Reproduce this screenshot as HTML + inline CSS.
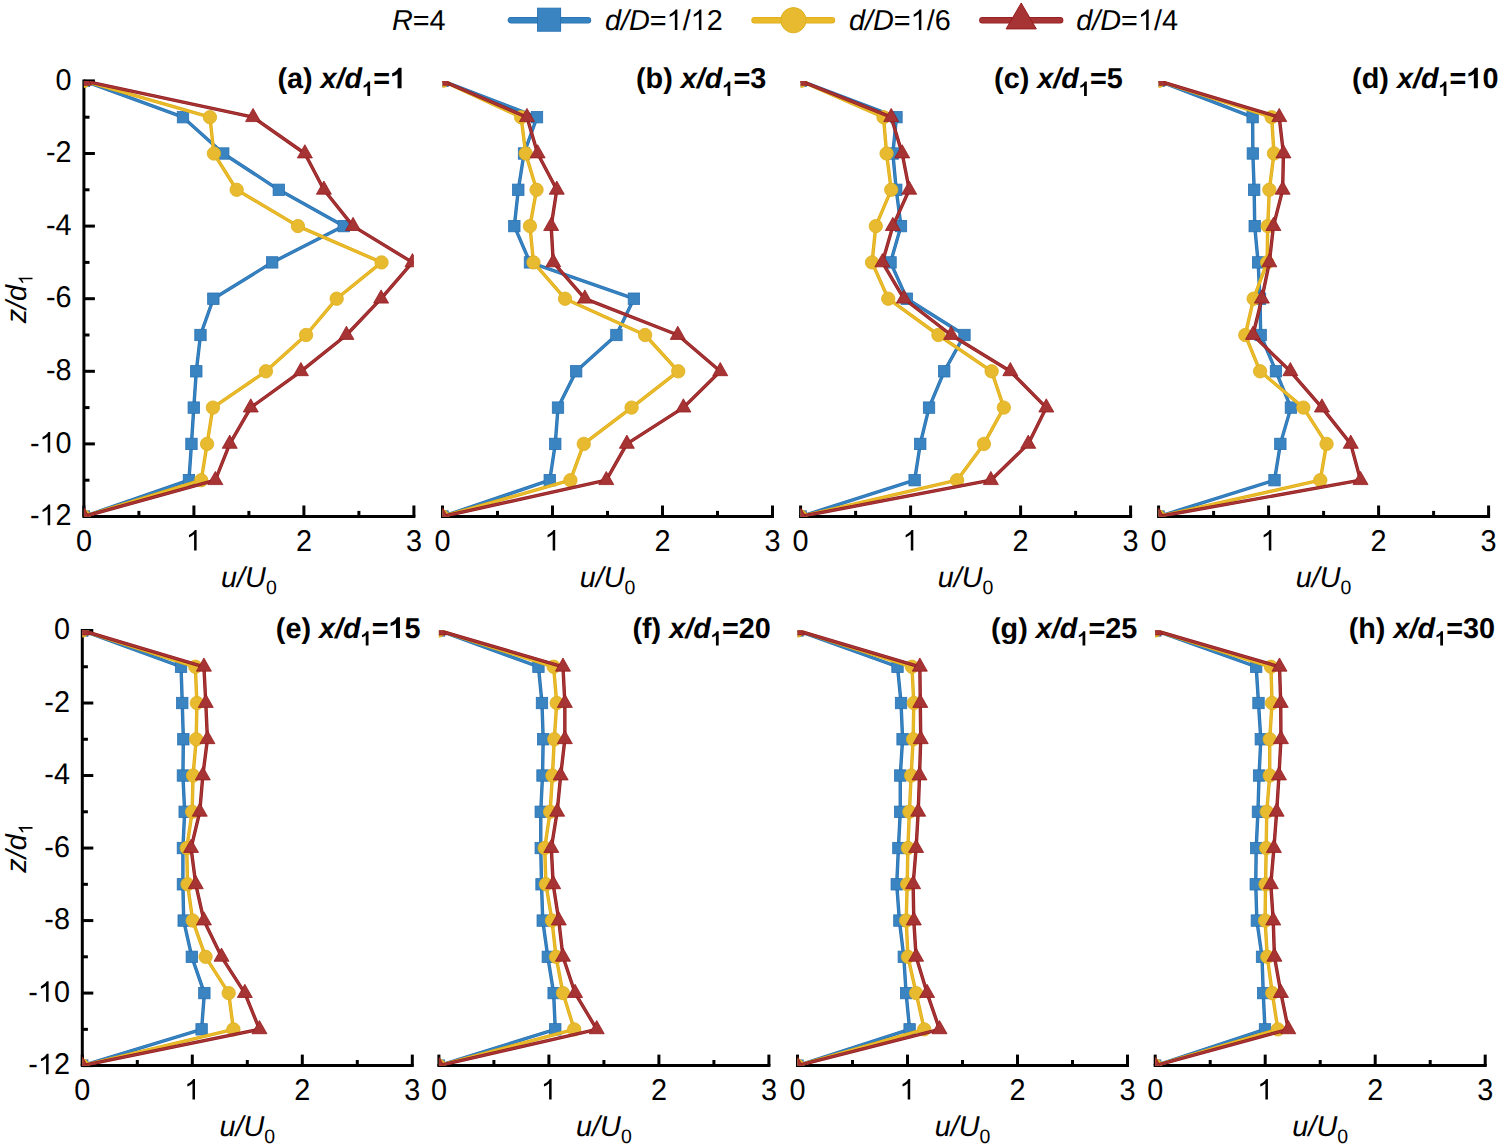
<!DOCTYPE html>
<html><head><meta charset="utf-8"><title>Velocity profiles</title>
<style>html,body{margin:0;padding:0;background:#fff;}svg{display:block;}text{font-family:"Liberation Sans", sans-serif;fill:#000;text-rendering:geometricPrecision;}.o1{fill-opacity:0;}</style></head><body>
<svg width="1499" height="1147" viewBox="0 0 1499 1147">
<rect width="1499" height="1147" fill="#fff"/>
<defs>
<clipPath id="ca"><rect x="83.9" y="80.9" width="330" height="435.6"/></clipPath>
<clipPath id="cb"><rect x="442.5" y="80.9" width="330" height="435.6"/></clipPath>
<clipPath id="cc"><rect x="800.6" y="80.9" width="330" height="435.6"/></clipPath>
<clipPath id="cd"><rect x="1158.6" y="80.9" width="330" height="435.6"/></clipPath>
<clipPath id="ce"><rect x="82.3" y="630.5" width="330" height="435.1"/></clipPath>
<clipPath id="cf"><rect x="438.9" y="630.5" width="330" height="435.1"/></clipPath>
<clipPath id="cg"><rect x="797.5" y="630.5" width="330" height="435.1"/></clipPath>
<clipPath id="ch"><rect x="1155.2" y="630.5" width="330" height="435.1"/></clipPath>
</defs>
<g stroke="#000" stroke-width="3.0" fill="none" stroke-linecap="butt">
<line x1="82.4" y1="516.5" x2="415.4" y2="516.5"/>
<line x1="83.9" y1="516.5" x2="83.9" y2="505.5"/>
<line x1="193.9" y1="516.5" x2="193.9" y2="505.5"/>
<line x1="303.9" y1="516.5" x2="303.9" y2="505.5"/>
<line x1="413.9" y1="516.5" x2="413.9" y2="505.5"/>
<line x1="138.9" y1="516.5" x2="138.9" y2="510.9"/>
<line x1="248.9" y1="516.5" x2="248.9" y2="510.9"/>
<line x1="358.9" y1="516.5" x2="358.9" y2="510.9"/>
<line x1="83.9" y1="79.4" x2="83.9" y2="516.5"/>
<line x1="83.9" y1="80.9" x2="94.9" y2="80.9"/>
<line x1="83.9" y1="117.2" x2="89.5" y2="117.2"/>
<line x1="83.9" y1="153.5" x2="94.9" y2="153.5"/>
<line x1="83.9" y1="189.8" x2="89.5" y2="189.8"/>
<line x1="83.9" y1="226.1" x2="94.9" y2="226.1"/>
<line x1="83.9" y1="262.4" x2="89.5" y2="262.4"/>
<line x1="83.9" y1="298.7" x2="94.9" y2="298.7"/>
<line x1="83.9" y1="335" x2="89.5" y2="335"/>
<line x1="83.9" y1="371.3" x2="94.9" y2="371.3"/>
<line x1="83.9" y1="407.6" x2="89.5" y2="407.6"/>
<line x1="83.9" y1="443.9" x2="94.9" y2="443.9"/>
<line x1="83.9" y1="480.2" x2="89.5" y2="480.2"/>
<line x1="83.9" y1="516.5" x2="94.9" y2="516.5"/>
</g>
<g clip-path="url(#ca)">
<polyline points="83.9,80.9 182.99,117.2 223.25,153.5 278.8,189.8 343.7,226.1 272.2,262.4 213.35,298.7 200.48,335 196.3,371.3 193.77,407.6 191.46,443.9 188.93,480.2 83.9,516.5" fill="none" stroke="#2a70b0" stroke-width="3.4" stroke-linejoin="round"/>
<polyline points="83.9,80.9 182.99,117.2 223.25,153.5 278.8,189.8 343.7,226.1 272.2,262.4 213.35,298.7 200.48,335 196.3,371.3 193.77,407.6 191.46,443.9 188.93,480.2 83.9,516.5" fill="none" stroke="#3683c2" stroke-width="2.1" stroke-linejoin="round"/>
<rect x="78.2" y="75.2" width="11.4" height="11.4" fill="#3a85c1" stroke="#2a72b3" stroke-width="0.8"/>
<rect x="177.29" y="111.5" width="11.4" height="11.4" fill="#3a85c1" stroke="#2a72b3" stroke-width="0.8"/>
<rect x="217.55" y="147.8" width="11.4" height="11.4" fill="#3a85c1" stroke="#2a72b3" stroke-width="0.8"/>
<rect x="273.1" y="184.1" width="11.4" height="11.4" fill="#3a85c1" stroke="#2a72b3" stroke-width="0.8"/>
<rect x="338" y="220.4" width="11.4" height="11.4" fill="#3a85c1" stroke="#2a72b3" stroke-width="0.8"/>
<rect x="266.5" y="256.7" width="11.4" height="11.4" fill="#3a85c1" stroke="#2a72b3" stroke-width="0.8"/>
<rect x="207.65" y="293" width="11.4" height="11.4" fill="#3a85c1" stroke="#2a72b3" stroke-width="0.8"/>
<rect x="194.78" y="329.3" width="11.4" height="11.4" fill="#3a85c1" stroke="#2a72b3" stroke-width="0.8"/>
<rect x="190.6" y="365.6" width="11.4" height="11.4" fill="#3a85c1" stroke="#2a72b3" stroke-width="0.8"/>
<rect x="188.07" y="401.9" width="11.4" height="11.4" fill="#3a85c1" stroke="#2a72b3" stroke-width="0.8"/>
<rect x="185.76" y="438.2" width="11.4" height="11.4" fill="#3a85c1" stroke="#2a72b3" stroke-width="0.8"/>
<rect x="183.23" y="474.5" width="11.4" height="11.4" fill="#3a85c1" stroke="#2a72b3" stroke-width="0.8"/>
<rect x="78.2" y="510.8" width="11.4" height="11.4" fill="#3a85c1" stroke="#2a72b3" stroke-width="0.8"/>
<polyline points="83.9,80.9 209.94,117.2 213.9,153.5 236.67,189.8 297.94,226.1 381.54,262.4 336.66,298.7 306.08,335 265.93,371.3 212.91,407.6 207.08,443.9 201.25,480.2 83.9,516.5" fill="none" stroke="#e0ac14" stroke-width="3.4" stroke-linejoin="round"/>
<polyline points="83.9,80.9 209.94,117.2 213.9,153.5 236.67,189.8 297.94,226.1 381.54,262.4 336.66,298.7 306.08,335 265.93,371.3 212.91,407.6 207.08,443.9 201.25,480.2 83.9,516.5" fill="none" stroke="#e9bb2c" stroke-width="2.1" stroke-linejoin="round"/>
<circle cx="83.9" cy="80.9" r="6.7" fill="#e7ba2f" stroke="#e0b020" stroke-width="0.8"/>
<circle cx="209.94" cy="117.2" r="6.7" fill="#e7ba2f" stroke="#e0b020" stroke-width="0.8"/>
<circle cx="213.9" cy="153.5" r="6.7" fill="#e7ba2f" stroke="#e0b020" stroke-width="0.8"/>
<circle cx="236.67" cy="189.8" r="6.7" fill="#e7ba2f" stroke="#e0b020" stroke-width="0.8"/>
<circle cx="297.94" cy="226.1" r="6.7" fill="#e7ba2f" stroke="#e0b020" stroke-width="0.8"/>
<circle cx="381.54" cy="262.4" r="6.7" fill="#e7ba2f" stroke="#e0b020" stroke-width="0.8"/>
<circle cx="336.66" cy="298.7" r="6.7" fill="#e7ba2f" stroke="#e0b020" stroke-width="0.8"/>
<circle cx="306.08" cy="335" r="6.7" fill="#e7ba2f" stroke="#e0b020" stroke-width="0.8"/>
<circle cx="265.93" cy="371.3" r="6.7" fill="#e7ba2f" stroke="#e0b020" stroke-width="0.8"/>
<circle cx="212.91" cy="407.6" r="6.7" fill="#e7ba2f" stroke="#e0b020" stroke-width="0.8"/>
<circle cx="207.08" cy="443.9" r="6.7" fill="#e7ba2f" stroke="#e0b020" stroke-width="0.8"/>
<circle cx="201.25" cy="480.2" r="6.7" fill="#e7ba2f" stroke="#e0b020" stroke-width="0.8"/>
<circle cx="83.9" cy="516.5" r="6.7" fill="#e7ba2f" stroke="#e0b020" stroke-width="0.8"/>
<polyline points="83.9,80.9 253.06,117.2 304.87,153.5 323.9,189.8 353.05,226.1 412.45,262.4 381.1,298.7 346.45,335 300.91,371.3 250.75,407.6 229.74,443.9 215.33,480.2 83.9,516.5" fill="none" stroke="#921d1f" stroke-width="3.4" stroke-linejoin="round"/>
<polyline points="83.9,80.9 253.06,117.2 304.87,153.5 323.9,189.8 353.05,226.1 412.45,262.4 381.1,298.7 346.45,335 300.91,371.3 250.75,407.6 229.74,443.9 215.33,480.2 83.9,516.5" fill="none" stroke="#a63434" stroke-width="2.1" stroke-linejoin="round"/>
<polygon points="83.9,72.1 91.4,85.3 76.4,85.3" fill="#a63434" stroke="#981c1e" stroke-width="0.8" stroke-linejoin="miter"/>
<polygon points="253.06,108.4 260.56,121.6 245.56,121.6" fill="#a63434" stroke="#981c1e" stroke-width="0.8" stroke-linejoin="miter"/>
<polygon points="304.87,144.7 312.37,157.9 297.37,157.9" fill="#a63434" stroke="#981c1e" stroke-width="0.8" stroke-linejoin="miter"/>
<polygon points="323.9,181 331.4,194.2 316.4,194.2" fill="#a63434" stroke="#981c1e" stroke-width="0.8" stroke-linejoin="miter"/>
<polygon points="353.05,217.3 360.55,230.5 345.55,230.5" fill="#a63434" stroke="#981c1e" stroke-width="0.8" stroke-linejoin="miter"/>
<polygon points="412.45,253.6 419.95,266.8 404.95,266.8" fill="#a63434" stroke="#981c1e" stroke-width="0.8" stroke-linejoin="miter"/>
<polygon points="381.1,289.9 388.6,303.1 373.6,303.1" fill="#a63434" stroke="#981c1e" stroke-width="0.8" stroke-linejoin="miter"/>
<polygon points="346.45,326.2 353.95,339.4 338.95,339.4" fill="#a63434" stroke="#981c1e" stroke-width="0.8" stroke-linejoin="miter"/>
<polygon points="300.91,362.5 308.41,375.7 293.41,375.7" fill="#a63434" stroke="#981c1e" stroke-width="0.8" stroke-linejoin="miter"/>
<polygon points="250.75,398.8 258.25,412 243.25,412" fill="#a63434" stroke="#981c1e" stroke-width="0.8" stroke-linejoin="miter"/>
<polygon points="229.74,435.1 237.24,448.3 222.24,448.3" fill="#a63434" stroke="#981c1e" stroke-width="0.8" stroke-linejoin="miter"/>
<polygon points="215.33,471.4 222.83,484.6 207.83,484.6" fill="#a63434" stroke="#981c1e" stroke-width="0.8" stroke-linejoin="miter"/>
<polygon points="83.9,507.7 91.4,520.9 76.4,520.9" fill="#a63434" stroke="#981c1e" stroke-width="0.8" stroke-linejoin="miter"/>
</g>
<text transform="translate(83.9,550.5) scale(1,1.04)" font-size="28.8" text-anchor="middle">0</text>
<text transform="translate(193.9,550.5) scale(1,1.04)" font-size="28.8" text-anchor="middle"><tspan class="o1">1</tspan></text>
<text transform="translate(303.9,550.5) scale(1,1.04)" font-size="28.8" text-anchor="middle">2</text>
<text transform="translate(413.9,550.5) scale(1,1.04)" font-size="28.8" text-anchor="middle">3</text>
<text transform="translate(71.5,89.6) scale(1,1.04)" font-size="28.8" text-anchor="end">0</text>
<text transform="translate(71.5,162.2) scale(1,1.04)" font-size="28.8" text-anchor="end">-2</text>
<text transform="translate(71.5,234.8) scale(1,1.04)" font-size="28.8" text-anchor="end">-4</text>
<text transform="translate(71.5,307.4) scale(1,1.04)" font-size="28.8" text-anchor="end">-6</text>
<text transform="translate(71.5,380) scale(1,1.04)" font-size="28.8" text-anchor="end">-8</text>
<text transform="translate(71.5,452.6) scale(1,1.04)" font-size="28.8" text-anchor="end">-<tspan class="o1">1</tspan>0</text>
<text transform="translate(71.5,525.2) scale(1,1.04)" font-size="28.8" text-anchor="end">-<tspan class="o1">1</tspan>2</text>
<text transform="translate(25.5,298.7) rotate(-90)" font-size="28.8" text-anchor="middle"><tspan font-style="italic">z/d</tspan><tspan font-size="19.5" dy="7"><tspan class="o1">1</tspan></tspan></text>
<text x="248.9" y="586.8" font-size="28.8" text-anchor="middle"><tspan font-style="italic">u/U</tspan><tspan font-size="19.5" dy="7">0</tspan></text>
<text x="277.4" y="88.3" font-size="28.8" font-weight="bold">(a) <tspan font-style="italic">x/d</tspan><tspan font-size="20" dy="7.6"><tspan class="o1">1</tspan></tspan><tspan dy="-7.6">=<tspan class="o1">1</tspan></tspan></text>
<g stroke="#000" stroke-width="3.0" fill="none" stroke-linecap="butt">
<line x1="441" y1="516.5" x2="774" y2="516.5"/>
<line x1="442.5" y1="516.5" x2="442.5" y2="505.5"/>
<line x1="552.5" y1="516.5" x2="552.5" y2="505.5"/>
<line x1="662.5" y1="516.5" x2="662.5" y2="505.5"/>
<line x1="772.5" y1="516.5" x2="772.5" y2="505.5"/>
<line x1="497.5" y1="516.5" x2="497.5" y2="510.9"/>
<line x1="607.5" y1="516.5" x2="607.5" y2="510.9"/>
<line x1="717.5" y1="516.5" x2="717.5" y2="510.9"/>
</g>
<g clip-path="url(#cb)">
<polyline points="442.5,80.9 536.99,117.2 524.01,153.5 518.29,189.8 514.33,226.1 529.95,262.4 633.9,298.7 616.41,335 576.15,371.3 558,407.6 555.25,443.9 549.75,480.2 442.5,516.5" fill="none" stroke="#2a70b0" stroke-width="3.4" stroke-linejoin="round"/>
<polyline points="442.5,80.9 536.99,117.2 524.01,153.5 518.29,189.8 514.33,226.1 529.95,262.4 633.9,298.7 616.41,335 576.15,371.3 558,407.6 555.25,443.9 549.75,480.2 442.5,516.5" fill="none" stroke="#3683c2" stroke-width="2.1" stroke-linejoin="round"/>
<rect x="436.8" y="75.2" width="11.4" height="11.4" fill="#3a85c1" stroke="#2a72b3" stroke-width="0.8"/>
<rect x="531.29" y="111.5" width="11.4" height="11.4" fill="#3a85c1" stroke="#2a72b3" stroke-width="0.8"/>
<rect x="518.31" y="147.8" width="11.4" height="11.4" fill="#3a85c1" stroke="#2a72b3" stroke-width="0.8"/>
<rect x="512.59" y="184.1" width="11.4" height="11.4" fill="#3a85c1" stroke="#2a72b3" stroke-width="0.8"/>
<rect x="508.63" y="220.4" width="11.4" height="11.4" fill="#3a85c1" stroke="#2a72b3" stroke-width="0.8"/>
<rect x="524.25" y="256.7" width="11.4" height="11.4" fill="#3a85c1" stroke="#2a72b3" stroke-width="0.8"/>
<rect x="628.2" y="293" width="11.4" height="11.4" fill="#3a85c1" stroke="#2a72b3" stroke-width="0.8"/>
<rect x="610.71" y="329.3" width="11.4" height="11.4" fill="#3a85c1" stroke="#2a72b3" stroke-width="0.8"/>
<rect x="570.45" y="365.6" width="11.4" height="11.4" fill="#3a85c1" stroke="#2a72b3" stroke-width="0.8"/>
<rect x="552.3" y="401.9" width="11.4" height="11.4" fill="#3a85c1" stroke="#2a72b3" stroke-width="0.8"/>
<rect x="549.55" y="438.2" width="11.4" height="11.4" fill="#3a85c1" stroke="#2a72b3" stroke-width="0.8"/>
<rect x="544.05" y="474.5" width="11.4" height="11.4" fill="#3a85c1" stroke="#2a72b3" stroke-width="0.8"/>
<rect x="436.8" y="510.8" width="11.4" height="11.4" fill="#3a85c1" stroke="#2a72b3" stroke-width="0.8"/>
<polyline points="442.5,80.9 521.15,117.2 525.66,153.5 536.55,189.8 529.95,226.1 533.47,262.4 565.04,298.7 645.12,335 678.23,371.3 631.59,407.6 583.74,443.9 570.43,480.2 442.5,516.5" fill="none" stroke="#e0ac14" stroke-width="3.4" stroke-linejoin="round"/>
<polyline points="442.5,80.9 521.15,117.2 525.66,153.5 536.55,189.8 529.95,226.1 533.47,262.4 565.04,298.7 645.12,335 678.23,371.3 631.59,407.6 583.74,443.9 570.43,480.2 442.5,516.5" fill="none" stroke="#e9bb2c" stroke-width="2.1" stroke-linejoin="round"/>
<circle cx="442.5" cy="80.9" r="6.7" fill="#e7ba2f" stroke="#e0b020" stroke-width="0.8"/>
<circle cx="521.15" cy="117.2" r="6.7" fill="#e7ba2f" stroke="#e0b020" stroke-width="0.8"/>
<circle cx="525.66" cy="153.5" r="6.7" fill="#e7ba2f" stroke="#e0b020" stroke-width="0.8"/>
<circle cx="536.55" cy="189.8" r="6.7" fill="#e7ba2f" stroke="#e0b020" stroke-width="0.8"/>
<circle cx="529.95" cy="226.1" r="6.7" fill="#e7ba2f" stroke="#e0b020" stroke-width="0.8"/>
<circle cx="533.47" cy="262.4" r="6.7" fill="#e7ba2f" stroke="#e0b020" stroke-width="0.8"/>
<circle cx="565.04" cy="298.7" r="6.7" fill="#e7ba2f" stroke="#e0b020" stroke-width="0.8"/>
<circle cx="645.12" cy="335" r="6.7" fill="#e7ba2f" stroke="#e0b020" stroke-width="0.8"/>
<circle cx="678.23" cy="371.3" r="6.7" fill="#e7ba2f" stroke="#e0b020" stroke-width="0.8"/>
<circle cx="631.59" cy="407.6" r="6.7" fill="#e7ba2f" stroke="#e0b020" stroke-width="0.8"/>
<circle cx="583.74" cy="443.9" r="6.7" fill="#e7ba2f" stroke="#e0b020" stroke-width="0.8"/>
<circle cx="570.43" cy="480.2" r="6.7" fill="#e7ba2f" stroke="#e0b020" stroke-width="0.8"/>
<circle cx="442.5" cy="516.5" r="6.7" fill="#e7ba2f" stroke="#e0b020" stroke-width="0.8"/>
<polyline points="442.5,80.9 526.98,117.2 537.65,153.5 556.79,189.8 551.18,226.1 553.27,262.4 584.84,298.7 677.79,335 720.25,371.3 683.4,407.6 626.86,443.9 606.29,480.2 442.5,516.5" fill="none" stroke="#921d1f" stroke-width="3.4" stroke-linejoin="round"/>
<polyline points="442.5,80.9 526.98,117.2 537.65,153.5 556.79,189.8 551.18,226.1 553.27,262.4 584.84,298.7 677.79,335 720.25,371.3 683.4,407.6 626.86,443.9 606.29,480.2 442.5,516.5" fill="none" stroke="#a63434" stroke-width="2.1" stroke-linejoin="round"/>
<polygon points="442.5,72.1 450,85.3 435,85.3" fill="#a63434" stroke="#981c1e" stroke-width="0.8" stroke-linejoin="miter"/>
<polygon points="526.98,108.4 534.48,121.6 519.48,121.6" fill="#a63434" stroke="#981c1e" stroke-width="0.8" stroke-linejoin="miter"/>
<polygon points="537.65,144.7 545.15,157.9 530.15,157.9" fill="#a63434" stroke="#981c1e" stroke-width="0.8" stroke-linejoin="miter"/>
<polygon points="556.79,181 564.29,194.2 549.29,194.2" fill="#a63434" stroke="#981c1e" stroke-width="0.8" stroke-linejoin="miter"/>
<polygon points="551.18,217.3 558.68,230.5 543.68,230.5" fill="#a63434" stroke="#981c1e" stroke-width="0.8" stroke-linejoin="miter"/>
<polygon points="553.27,253.6 560.77,266.8 545.77,266.8" fill="#a63434" stroke="#981c1e" stroke-width="0.8" stroke-linejoin="miter"/>
<polygon points="584.84,289.9 592.34,303.1 577.34,303.1" fill="#a63434" stroke="#981c1e" stroke-width="0.8" stroke-linejoin="miter"/>
<polygon points="677.79,326.2 685.29,339.4 670.29,339.4" fill="#a63434" stroke="#981c1e" stroke-width="0.8" stroke-linejoin="miter"/>
<polygon points="720.25,362.5 727.75,375.7 712.75,375.7" fill="#a63434" stroke="#981c1e" stroke-width="0.8" stroke-linejoin="miter"/>
<polygon points="683.4,398.8 690.9,412 675.9,412" fill="#a63434" stroke="#981c1e" stroke-width="0.8" stroke-linejoin="miter"/>
<polygon points="626.86,435.1 634.36,448.3 619.36,448.3" fill="#a63434" stroke="#981c1e" stroke-width="0.8" stroke-linejoin="miter"/>
<polygon points="606.29,471.4 613.79,484.6 598.79,484.6" fill="#a63434" stroke="#981c1e" stroke-width="0.8" stroke-linejoin="miter"/>
<polygon points="442.5,507.7 450,520.9 435,520.9" fill="#a63434" stroke="#981c1e" stroke-width="0.8" stroke-linejoin="miter"/>
</g>
<text transform="translate(442.5,550.5) scale(1,1.04)" font-size="28.8" text-anchor="middle">0</text>
<text transform="translate(552.5,550.5) scale(1,1.04)" font-size="28.8" text-anchor="middle"><tspan class="o1">1</tspan></text>
<text transform="translate(662.5,550.5) scale(1,1.04)" font-size="28.8" text-anchor="middle">2</text>
<text transform="translate(772.5,550.5) scale(1,1.04)" font-size="28.8" text-anchor="middle">3</text>
<text x="607.5" y="586.8" font-size="28.8" text-anchor="middle"><tspan font-style="italic">u/U</tspan><tspan font-size="19.5" dy="7">0</tspan></text>
<text x="636" y="88.3" font-size="28.8" font-weight="bold">(b) <tspan font-style="italic">x/d</tspan><tspan font-size="20" dy="7.6"><tspan class="o1">1</tspan></tspan><tspan dy="-7.6">=3</tspan></text>
<g stroke="#000" stroke-width="3.0" fill="none" stroke-linecap="butt">
<line x1="799.1" y1="516.5" x2="1132.1" y2="516.5"/>
<line x1="800.6" y1="516.5" x2="800.6" y2="505.5"/>
<line x1="910.6" y1="516.5" x2="910.6" y2="505.5"/>
<line x1="1020.6" y1="516.5" x2="1020.6" y2="505.5"/>
<line x1="1130.6" y1="516.5" x2="1130.6" y2="505.5"/>
<line x1="855.6" y1="516.5" x2="855.6" y2="510.9"/>
<line x1="965.6" y1="516.5" x2="965.6" y2="510.9"/>
<line x1="1075.6" y1="516.5" x2="1075.6" y2="510.9"/>
</g>
<g clip-path="url(#cc)">
<polyline points="800.6,80.9 896.48,117.2 892.85,153.5 896.26,189.8 900.99,226.1 890.54,262.4 906.82,298.7 964.46,335 944.22,371.3 929.04,407.6 920.24,443.9 914.63,480.2 800.6,516.5" fill="none" stroke="#2a70b0" stroke-width="3.4" stroke-linejoin="round"/>
<polyline points="800.6,80.9 896.48,117.2 892.85,153.5 896.26,189.8 900.99,226.1 890.54,262.4 906.82,298.7 964.46,335 944.22,371.3 929.04,407.6 920.24,443.9 914.63,480.2 800.6,516.5" fill="none" stroke="#3683c2" stroke-width="2.1" stroke-linejoin="round"/>
<rect x="794.9" y="75.2" width="11.4" height="11.4" fill="#3a85c1" stroke="#2a72b3" stroke-width="0.8"/>
<rect x="890.78" y="111.5" width="11.4" height="11.4" fill="#3a85c1" stroke="#2a72b3" stroke-width="0.8"/>
<rect x="887.15" y="147.8" width="11.4" height="11.4" fill="#3a85c1" stroke="#2a72b3" stroke-width="0.8"/>
<rect x="890.56" y="184.1" width="11.4" height="11.4" fill="#3a85c1" stroke="#2a72b3" stroke-width="0.8"/>
<rect x="895.29" y="220.4" width="11.4" height="11.4" fill="#3a85c1" stroke="#2a72b3" stroke-width="0.8"/>
<rect x="884.84" y="256.7" width="11.4" height="11.4" fill="#3a85c1" stroke="#2a72b3" stroke-width="0.8"/>
<rect x="901.12" y="293" width="11.4" height="11.4" fill="#3a85c1" stroke="#2a72b3" stroke-width="0.8"/>
<rect x="958.76" y="329.3" width="11.4" height="11.4" fill="#3a85c1" stroke="#2a72b3" stroke-width="0.8"/>
<rect x="938.52" y="365.6" width="11.4" height="11.4" fill="#3a85c1" stroke="#2a72b3" stroke-width="0.8"/>
<rect x="923.34" y="401.9" width="11.4" height="11.4" fill="#3a85c1" stroke="#2a72b3" stroke-width="0.8"/>
<rect x="914.54" y="438.2" width="11.4" height="11.4" fill="#3a85c1" stroke="#2a72b3" stroke-width="0.8"/>
<rect x="908.93" y="474.5" width="11.4" height="11.4" fill="#3a85c1" stroke="#2a72b3" stroke-width="0.8"/>
<rect x="794.9" y="510.8" width="11.4" height="11.4" fill="#3a85c1" stroke="#2a72b3" stroke-width="0.8"/>
<polyline points="800.6,80.9 883.5,117.2 886.58,153.5 891.2,189.8 875.8,226.1 872.06,262.4 888.23,298.7 938.39,335 991.63,371.3 1003.84,407.6 983.93,443.9 957.09,480.2 800.6,516.5" fill="none" stroke="#e0ac14" stroke-width="3.4" stroke-linejoin="round"/>
<polyline points="800.6,80.9 883.5,117.2 886.58,153.5 891.2,189.8 875.8,226.1 872.06,262.4 888.23,298.7 938.39,335 991.63,371.3 1003.84,407.6 983.93,443.9 957.09,480.2 800.6,516.5" fill="none" stroke="#e9bb2c" stroke-width="2.1" stroke-linejoin="round"/>
<circle cx="800.6" cy="80.9" r="6.7" fill="#e7ba2f" stroke="#e0b020" stroke-width="0.8"/>
<circle cx="883.5" cy="117.2" r="6.7" fill="#e7ba2f" stroke="#e0b020" stroke-width="0.8"/>
<circle cx="886.58" cy="153.5" r="6.7" fill="#e7ba2f" stroke="#e0b020" stroke-width="0.8"/>
<circle cx="891.2" cy="189.8" r="6.7" fill="#e7ba2f" stroke="#e0b020" stroke-width="0.8"/>
<circle cx="875.8" cy="226.1" r="6.7" fill="#e7ba2f" stroke="#e0b020" stroke-width="0.8"/>
<circle cx="872.06" cy="262.4" r="6.7" fill="#e7ba2f" stroke="#e0b020" stroke-width="0.8"/>
<circle cx="888.23" cy="298.7" r="6.7" fill="#e7ba2f" stroke="#e0b020" stroke-width="0.8"/>
<circle cx="938.39" cy="335" r="6.7" fill="#e7ba2f" stroke="#e0b020" stroke-width="0.8"/>
<circle cx="991.63" cy="371.3" r="6.7" fill="#e7ba2f" stroke="#e0b020" stroke-width="0.8"/>
<circle cx="1003.84" cy="407.6" r="6.7" fill="#e7ba2f" stroke="#e0b020" stroke-width="0.8"/>
<circle cx="983.93" cy="443.9" r="6.7" fill="#e7ba2f" stroke="#e0b020" stroke-width="0.8"/>
<circle cx="957.09" cy="480.2" r="6.7" fill="#e7ba2f" stroke="#e0b020" stroke-width="0.8"/>
<circle cx="800.6" cy="516.5" r="6.7" fill="#e7ba2f" stroke="#e0b020" stroke-width="0.8"/>
<polyline points="800.6,80.9 891.2,117.2 902.2,153.5 909.24,189.8 892.85,226.1 882.4,262.4 903.85,298.7 951.15,335 1010.33,371.3 1046.3,407.6 1028.26,443.9 990.86,480.2 800.6,516.5" fill="none" stroke="#921d1f" stroke-width="3.4" stroke-linejoin="round"/>
<polyline points="800.6,80.9 891.2,117.2 902.2,153.5 909.24,189.8 892.85,226.1 882.4,262.4 903.85,298.7 951.15,335 1010.33,371.3 1046.3,407.6 1028.26,443.9 990.86,480.2 800.6,516.5" fill="none" stroke="#a63434" stroke-width="2.1" stroke-linejoin="round"/>
<polygon points="800.6,72.1 808.1,85.3 793.1,85.3" fill="#a63434" stroke="#981c1e" stroke-width="0.8" stroke-linejoin="miter"/>
<polygon points="891.2,108.4 898.7,121.6 883.7,121.6" fill="#a63434" stroke="#981c1e" stroke-width="0.8" stroke-linejoin="miter"/>
<polygon points="902.2,144.7 909.7,157.9 894.7,157.9" fill="#a63434" stroke="#981c1e" stroke-width="0.8" stroke-linejoin="miter"/>
<polygon points="909.24,181 916.74,194.2 901.74,194.2" fill="#a63434" stroke="#981c1e" stroke-width="0.8" stroke-linejoin="miter"/>
<polygon points="892.85,217.3 900.35,230.5 885.35,230.5" fill="#a63434" stroke="#981c1e" stroke-width="0.8" stroke-linejoin="miter"/>
<polygon points="882.4,253.6 889.9,266.8 874.9,266.8" fill="#a63434" stroke="#981c1e" stroke-width="0.8" stroke-linejoin="miter"/>
<polygon points="903.85,289.9 911.35,303.1 896.35,303.1" fill="#a63434" stroke="#981c1e" stroke-width="0.8" stroke-linejoin="miter"/>
<polygon points="951.15,326.2 958.65,339.4 943.65,339.4" fill="#a63434" stroke="#981c1e" stroke-width="0.8" stroke-linejoin="miter"/>
<polygon points="1010.33,362.5 1017.83,375.7 1002.83,375.7" fill="#a63434" stroke="#981c1e" stroke-width="0.8" stroke-linejoin="miter"/>
<polygon points="1046.3,398.8 1053.8,412 1038.8,412" fill="#a63434" stroke="#981c1e" stroke-width="0.8" stroke-linejoin="miter"/>
<polygon points="1028.26,435.1 1035.76,448.3 1020.76,448.3" fill="#a63434" stroke="#981c1e" stroke-width="0.8" stroke-linejoin="miter"/>
<polygon points="990.86,471.4 998.36,484.6 983.36,484.6" fill="#a63434" stroke="#981c1e" stroke-width="0.8" stroke-linejoin="miter"/>
<polygon points="800.6,507.7 808.1,520.9 793.1,520.9" fill="#a63434" stroke="#981c1e" stroke-width="0.8" stroke-linejoin="miter"/>
</g>
<text transform="translate(800.6,550.5) scale(1,1.04)" font-size="28.8" text-anchor="middle">0</text>
<text transform="translate(910.6,550.5) scale(1,1.04)" font-size="28.8" text-anchor="middle"><tspan class="o1">1</tspan></text>
<text transform="translate(1020.6,550.5) scale(1,1.04)" font-size="28.8" text-anchor="middle">2</text>
<text transform="translate(1130.6,550.5) scale(1,1.04)" font-size="28.8" text-anchor="middle">3</text>
<text x="965.6" y="586.8" font-size="28.8" text-anchor="middle"><tspan font-style="italic">u/U</tspan><tspan font-size="19.5" dy="7">0</tspan></text>
<text x="994.1" y="88.3" font-size="28.8" font-weight="bold">(c) <tspan font-style="italic">x/d</tspan><tspan font-size="20" dy="7.6"><tspan class="o1">1</tspan></tspan><tspan dy="-7.6">=5</tspan></text>
<g stroke="#000" stroke-width="3.0" fill="none" stroke-linecap="butt">
<line x1="1157.1" y1="516.5" x2="1490.1" y2="516.5"/>
<line x1="1158.6" y1="516.5" x2="1158.6" y2="505.5"/>
<line x1="1268.6" y1="516.5" x2="1268.6" y2="505.5"/>
<line x1="1378.6" y1="516.5" x2="1378.6" y2="505.5"/>
<line x1="1488.6" y1="516.5" x2="1488.6" y2="505.5"/>
<line x1="1213.6" y1="516.5" x2="1213.6" y2="510.9"/>
<line x1="1323.6" y1="516.5" x2="1323.6" y2="510.9"/>
<line x1="1433.6" y1="516.5" x2="1433.6" y2="510.9"/>
</g>
<g clip-path="url(#cd)">
<polyline points="1158.6,80.9 1252.63,117.2 1252.85,153.5 1254.17,189.8 1254.72,226.1 1258.13,262.4 1260,298.7 1260.66,335 1275.95,371.3 1290.91,407.6 1280.35,443.9 1274.52,480.2 1158.6,516.5" fill="none" stroke="#2a70b0" stroke-width="3.4" stroke-linejoin="round"/>
<polyline points="1158.6,80.9 1252.63,117.2 1252.85,153.5 1254.17,189.8 1254.72,226.1 1258.13,262.4 1260,298.7 1260.66,335 1275.95,371.3 1290.91,407.6 1280.35,443.9 1274.52,480.2 1158.6,516.5" fill="none" stroke="#3683c2" stroke-width="2.1" stroke-linejoin="round"/>
<rect x="1152.9" y="75.2" width="11.4" height="11.4" fill="#3a85c1" stroke="#2a72b3" stroke-width="0.8"/>
<rect x="1246.93" y="111.5" width="11.4" height="11.4" fill="#3a85c1" stroke="#2a72b3" stroke-width="0.8"/>
<rect x="1247.15" y="147.8" width="11.4" height="11.4" fill="#3a85c1" stroke="#2a72b3" stroke-width="0.8"/>
<rect x="1248.47" y="184.1" width="11.4" height="11.4" fill="#3a85c1" stroke="#2a72b3" stroke-width="0.8"/>
<rect x="1249.02" y="220.4" width="11.4" height="11.4" fill="#3a85c1" stroke="#2a72b3" stroke-width="0.8"/>
<rect x="1252.43" y="256.7" width="11.4" height="11.4" fill="#3a85c1" stroke="#2a72b3" stroke-width="0.8"/>
<rect x="1254.3" y="293" width="11.4" height="11.4" fill="#3a85c1" stroke="#2a72b3" stroke-width="0.8"/>
<rect x="1254.96" y="329.3" width="11.4" height="11.4" fill="#3a85c1" stroke="#2a72b3" stroke-width="0.8"/>
<rect x="1270.25" y="365.6" width="11.4" height="11.4" fill="#3a85c1" stroke="#2a72b3" stroke-width="0.8"/>
<rect x="1285.21" y="401.9" width="11.4" height="11.4" fill="#3a85c1" stroke="#2a72b3" stroke-width="0.8"/>
<rect x="1274.65" y="438.2" width="11.4" height="11.4" fill="#3a85c1" stroke="#2a72b3" stroke-width="0.8"/>
<rect x="1268.82" y="474.5" width="11.4" height="11.4" fill="#3a85c1" stroke="#2a72b3" stroke-width="0.8"/>
<rect x="1152.9" y="510.8" width="11.4" height="11.4" fill="#3a85c1" stroke="#2a72b3" stroke-width="0.8"/>
<polyline points="1158.6,80.9 1271.66,117.2 1273.97,153.5 1269.35,189.8 1267.7,226.1 1267.15,262.4 1253.62,298.7 1245.26,335 1260.11,371.3 1303.34,407.6 1326.55,443.9 1320.28,480.2 1158.6,516.5" fill="none" stroke="#e0ac14" stroke-width="3.4" stroke-linejoin="round"/>
<polyline points="1158.6,80.9 1271.66,117.2 1273.97,153.5 1269.35,189.8 1267.7,226.1 1267.15,262.4 1253.62,298.7 1245.26,335 1260.11,371.3 1303.34,407.6 1326.55,443.9 1320.28,480.2 1158.6,516.5" fill="none" stroke="#e9bb2c" stroke-width="2.1" stroke-linejoin="round"/>
<circle cx="1158.6" cy="80.9" r="6.7" fill="#e7ba2f" stroke="#e0b020" stroke-width="0.8"/>
<circle cx="1271.66" cy="117.2" r="6.7" fill="#e7ba2f" stroke="#e0b020" stroke-width="0.8"/>
<circle cx="1273.97" cy="153.5" r="6.7" fill="#e7ba2f" stroke="#e0b020" stroke-width="0.8"/>
<circle cx="1269.35" cy="189.8" r="6.7" fill="#e7ba2f" stroke="#e0b020" stroke-width="0.8"/>
<circle cx="1267.7" cy="226.1" r="6.7" fill="#e7ba2f" stroke="#e0b020" stroke-width="0.8"/>
<circle cx="1267.15" cy="262.4" r="6.7" fill="#e7ba2f" stroke="#e0b020" stroke-width="0.8"/>
<circle cx="1253.62" cy="298.7" r="6.7" fill="#e7ba2f" stroke="#e0b020" stroke-width="0.8"/>
<circle cx="1245.26" cy="335" r="6.7" fill="#e7ba2f" stroke="#e0b020" stroke-width="0.8"/>
<circle cx="1260.11" cy="371.3" r="6.7" fill="#e7ba2f" stroke="#e0b020" stroke-width="0.8"/>
<circle cx="1303.34" cy="407.6" r="6.7" fill="#e7ba2f" stroke="#e0b020" stroke-width="0.8"/>
<circle cx="1326.55" cy="443.9" r="6.7" fill="#e7ba2f" stroke="#e0b020" stroke-width="0.8"/>
<circle cx="1320.28" cy="480.2" r="6.7" fill="#e7ba2f" stroke="#e0b020" stroke-width="0.8"/>
<circle cx="1158.6" cy="516.5" r="6.7" fill="#e7ba2f" stroke="#e0b020" stroke-width="0.8"/>
<polyline points="1158.6,80.9 1279.25,117.2 1283.43,153.5 1282.66,189.8 1273.42,226.1 1269.35,262.4 1261.87,298.7 1252.96,335 1290.36,371.3 1321.93,407.6 1350.75,443.9 1360.54,480.2 1158.6,516.5" fill="none" stroke="#921d1f" stroke-width="3.4" stroke-linejoin="round"/>
<polyline points="1158.6,80.9 1279.25,117.2 1283.43,153.5 1282.66,189.8 1273.42,226.1 1269.35,262.4 1261.87,298.7 1252.96,335 1290.36,371.3 1321.93,407.6 1350.75,443.9 1360.54,480.2 1158.6,516.5" fill="none" stroke="#a63434" stroke-width="2.1" stroke-linejoin="round"/>
<polygon points="1158.6,72.1 1166.1,85.3 1151.1,85.3" fill="#a63434" stroke="#981c1e" stroke-width="0.8" stroke-linejoin="miter"/>
<polygon points="1279.25,108.4 1286.75,121.6 1271.75,121.6" fill="#a63434" stroke="#981c1e" stroke-width="0.8" stroke-linejoin="miter"/>
<polygon points="1283.43,144.7 1290.93,157.9 1275.93,157.9" fill="#a63434" stroke="#981c1e" stroke-width="0.8" stroke-linejoin="miter"/>
<polygon points="1282.66,181 1290.16,194.2 1275.16,194.2" fill="#a63434" stroke="#981c1e" stroke-width="0.8" stroke-linejoin="miter"/>
<polygon points="1273.42,217.3 1280.92,230.5 1265.92,230.5" fill="#a63434" stroke="#981c1e" stroke-width="0.8" stroke-linejoin="miter"/>
<polygon points="1269.35,253.6 1276.85,266.8 1261.85,266.8" fill="#a63434" stroke="#981c1e" stroke-width="0.8" stroke-linejoin="miter"/>
<polygon points="1261.87,289.9 1269.37,303.1 1254.37,303.1" fill="#a63434" stroke="#981c1e" stroke-width="0.8" stroke-linejoin="miter"/>
<polygon points="1252.96,326.2 1260.46,339.4 1245.46,339.4" fill="#a63434" stroke="#981c1e" stroke-width="0.8" stroke-linejoin="miter"/>
<polygon points="1290.36,362.5 1297.86,375.7 1282.86,375.7" fill="#a63434" stroke="#981c1e" stroke-width="0.8" stroke-linejoin="miter"/>
<polygon points="1321.93,398.8 1329.43,412 1314.43,412" fill="#a63434" stroke="#981c1e" stroke-width="0.8" stroke-linejoin="miter"/>
<polygon points="1350.75,435.1 1358.25,448.3 1343.25,448.3" fill="#a63434" stroke="#981c1e" stroke-width="0.8" stroke-linejoin="miter"/>
<polygon points="1360.54,471.4 1368.04,484.6 1353.04,484.6" fill="#a63434" stroke="#981c1e" stroke-width="0.8" stroke-linejoin="miter"/>
<polygon points="1158.6,507.7 1166.1,520.9 1151.1,520.9" fill="#a63434" stroke="#981c1e" stroke-width="0.8" stroke-linejoin="miter"/>
</g>
<text transform="translate(1158.6,550.5) scale(1,1.04)" font-size="28.8" text-anchor="middle">0</text>
<text transform="translate(1268.6,550.5) scale(1,1.04)" font-size="28.8" text-anchor="middle"><tspan class="o1">1</tspan></text>
<text transform="translate(1378.6,550.5) scale(1,1.04)" font-size="28.8" text-anchor="middle">2</text>
<text transform="translate(1488.6,550.5) scale(1,1.04)" font-size="28.8" text-anchor="middle">3</text>
<text x="1323.6" y="586.8" font-size="28.8" text-anchor="middle"><tspan font-style="italic">u/U</tspan><tspan font-size="19.5" dy="7">0</tspan></text>
<text x="1352.1" y="88.3" font-size="28.8" font-weight="bold">(d) <tspan font-style="italic">x/d</tspan><tspan font-size="20" dy="7.6"><tspan class="o1">1</tspan></tspan><tspan dy="-7.6">=<tspan class="o1">1</tspan>0</tspan></text>
<g stroke="#000" stroke-width="3.0" fill="none" stroke-linecap="butt">
<line x1="80.8" y1="1065.6" x2="413.8" y2="1065.6"/>
<line x1="82.3" y1="1065.6" x2="82.3" y2="1054.6"/>
<line x1="192.3" y1="1065.6" x2="192.3" y2="1054.6"/>
<line x1="302.3" y1="1065.6" x2="302.3" y2="1054.6"/>
<line x1="412.3" y1="1065.6" x2="412.3" y2="1054.6"/>
<line x1="137.3" y1="1065.6" x2="137.3" y2="1060"/>
<line x1="247.3" y1="1065.6" x2="247.3" y2="1060"/>
<line x1="357.3" y1="1065.6" x2="357.3" y2="1060"/>
<line x1="82.3" y1="629" x2="82.3" y2="1065.6"/>
<line x1="82.3" y1="630.5" x2="93.3" y2="630.5"/>
<line x1="82.3" y1="666.76" x2="87.9" y2="666.76"/>
<line x1="82.3" y1="703.02" x2="93.3" y2="703.02"/>
<line x1="82.3" y1="739.27" x2="87.9" y2="739.27"/>
<line x1="82.3" y1="775.53" x2="93.3" y2="775.53"/>
<line x1="82.3" y1="811.79" x2="87.9" y2="811.79"/>
<line x1="82.3" y1="848.05" x2="93.3" y2="848.05"/>
<line x1="82.3" y1="884.31" x2="87.9" y2="884.31"/>
<line x1="82.3" y1="920.57" x2="93.3" y2="920.57"/>
<line x1="82.3" y1="956.82" x2="87.9" y2="956.82"/>
<line x1="82.3" y1="993.08" x2="93.3" y2="993.08"/>
<line x1="82.3" y1="1029.34" x2="87.9" y2="1029.34"/>
<line x1="82.3" y1="1065.6" x2="93.3" y2="1065.6"/>
</g>
<g clip-path="url(#ce)">
<polyline points="82.3,630.5 181.04,666.76 182.25,703.02 183.35,739.27 182.91,775.53 184.67,811.79 182.91,848.05 182.91,884.31 183.68,920.57 191.82,956.82 204.36,993.08 201.61,1029.34 82.3,1065.6" fill="none" stroke="#2a70b0" stroke-width="3.4" stroke-linejoin="round"/>
<polyline points="82.3,630.5 181.04,666.76 182.25,703.02 183.35,739.27 182.91,775.53 184.67,811.79 182.91,848.05 182.91,884.31 183.68,920.57 191.82,956.82 204.36,993.08 201.61,1029.34 82.3,1065.6" fill="none" stroke="#3683c2" stroke-width="2.1" stroke-linejoin="round"/>
<rect x="76.6" y="624.8" width="11.4" height="11.4" fill="#3a85c1" stroke="#2a72b3" stroke-width="0.8"/>
<rect x="175.34" y="661.06" width="11.4" height="11.4" fill="#3a85c1" stroke="#2a72b3" stroke-width="0.8"/>
<rect x="176.55" y="697.32" width="11.4" height="11.4" fill="#3a85c1" stroke="#2a72b3" stroke-width="0.8"/>
<rect x="177.65" y="733.57" width="11.4" height="11.4" fill="#3a85c1" stroke="#2a72b3" stroke-width="0.8"/>
<rect x="177.21" y="769.83" width="11.4" height="11.4" fill="#3a85c1" stroke="#2a72b3" stroke-width="0.8"/>
<rect x="178.97" y="806.09" width="11.4" height="11.4" fill="#3a85c1" stroke="#2a72b3" stroke-width="0.8"/>
<rect x="177.21" y="842.35" width="11.4" height="11.4" fill="#3a85c1" stroke="#2a72b3" stroke-width="0.8"/>
<rect x="177.21" y="878.61" width="11.4" height="11.4" fill="#3a85c1" stroke="#2a72b3" stroke-width="0.8"/>
<rect x="177.98" y="914.87" width="11.4" height="11.4" fill="#3a85c1" stroke="#2a72b3" stroke-width="0.8"/>
<rect x="186.12" y="951.12" width="11.4" height="11.4" fill="#3a85c1" stroke="#2a72b3" stroke-width="0.8"/>
<rect x="198.66" y="987.38" width="11.4" height="11.4" fill="#3a85c1" stroke="#2a72b3" stroke-width="0.8"/>
<rect x="195.91" y="1023.64" width="11.4" height="11.4" fill="#3a85c1" stroke="#2a72b3" stroke-width="0.8"/>
<rect x="76.6" y="1059.9" width="11.4" height="11.4" fill="#3a85c1" stroke="#2a72b3" stroke-width="0.8"/>
<polyline points="82.3,630.5 195.34,666.76 196.88,703.02 196.22,739.27 193.03,775.53 192.15,811.79 186.76,848.05 187.53,884.31 192.7,920.57 205.57,956.82 228.67,993.08 233.4,1029.34 82.3,1065.6" fill="none" stroke="#e0ac14" stroke-width="3.4" stroke-linejoin="round"/>
<polyline points="82.3,630.5 195.34,666.76 196.88,703.02 196.22,739.27 193.03,775.53 192.15,811.79 186.76,848.05 187.53,884.31 192.7,920.57 205.57,956.82 228.67,993.08 233.4,1029.34 82.3,1065.6" fill="none" stroke="#e9bb2c" stroke-width="2.1" stroke-linejoin="round"/>
<circle cx="82.3" cy="630.5" r="6.7" fill="#e7ba2f" stroke="#e0b020" stroke-width="0.8"/>
<circle cx="195.34" cy="666.76" r="6.7" fill="#e7ba2f" stroke="#e0b020" stroke-width="0.8"/>
<circle cx="196.88" cy="703.02" r="6.7" fill="#e7ba2f" stroke="#e0b020" stroke-width="0.8"/>
<circle cx="196.22" cy="739.27" r="6.7" fill="#e7ba2f" stroke="#e0b020" stroke-width="0.8"/>
<circle cx="193.03" cy="775.53" r="6.7" fill="#e7ba2f" stroke="#e0b020" stroke-width="0.8"/>
<circle cx="192.15" cy="811.79" r="6.7" fill="#e7ba2f" stroke="#e0b020" stroke-width="0.8"/>
<circle cx="186.76" cy="848.05" r="6.7" fill="#e7ba2f" stroke="#e0b020" stroke-width="0.8"/>
<circle cx="187.53" cy="884.31" r="6.7" fill="#e7ba2f" stroke="#e0b020" stroke-width="0.8"/>
<circle cx="192.7" cy="920.57" r="6.7" fill="#e7ba2f" stroke="#e0b020" stroke-width="0.8"/>
<circle cx="205.57" cy="956.82" r="6.7" fill="#e7ba2f" stroke="#e0b020" stroke-width="0.8"/>
<circle cx="228.67" cy="993.08" r="6.7" fill="#e7ba2f" stroke="#e0b020" stroke-width="0.8"/>
<circle cx="233.4" cy="1029.34" r="6.7" fill="#e7ba2f" stroke="#e0b020" stroke-width="0.8"/>
<circle cx="82.3" cy="1065.6" r="6.7" fill="#e7ba2f" stroke="#e0b020" stroke-width="0.8"/>
<polyline points="82.3,630.5 203.92,666.76 205.79,703.02 207.44,739.27 202.82,775.53 199.74,811.79 191.05,848.05 195.78,884.31 203.92,920.57 221.52,956.82 244.84,993.08 259.47,1029.34 82.3,1065.6" fill="none" stroke="#921d1f" stroke-width="3.4" stroke-linejoin="round"/>
<polyline points="82.3,630.5 203.92,666.76 205.79,703.02 207.44,739.27 202.82,775.53 199.74,811.79 191.05,848.05 195.78,884.31 203.92,920.57 221.52,956.82 244.84,993.08 259.47,1029.34 82.3,1065.6" fill="none" stroke="#a63434" stroke-width="2.1" stroke-linejoin="round"/>
<polygon points="82.3,621.7 89.8,634.9 74.8,634.9" fill="#a63434" stroke="#981c1e" stroke-width="0.8" stroke-linejoin="miter"/>
<polygon points="203.92,657.96 211.42,671.16 196.42,671.16" fill="#a63434" stroke="#981c1e" stroke-width="0.8" stroke-linejoin="miter"/>
<polygon points="205.79,694.22 213.29,707.42 198.29,707.42" fill="#a63434" stroke="#981c1e" stroke-width="0.8" stroke-linejoin="miter"/>
<polygon points="207.44,730.48 214.94,743.67 199.94,743.67" fill="#a63434" stroke="#981c1e" stroke-width="0.8" stroke-linejoin="miter"/>
<polygon points="202.82,766.73 210.32,779.93 195.32,779.93" fill="#a63434" stroke="#981c1e" stroke-width="0.8" stroke-linejoin="miter"/>
<polygon points="199.74,802.99 207.24,816.19 192.24,816.19" fill="#a63434" stroke="#981c1e" stroke-width="0.8" stroke-linejoin="miter"/>
<polygon points="191.05,839.25 198.55,852.45 183.55,852.45" fill="#a63434" stroke="#981c1e" stroke-width="0.8" stroke-linejoin="miter"/>
<polygon points="195.78,875.51 203.28,888.71 188.28,888.71" fill="#a63434" stroke="#981c1e" stroke-width="0.8" stroke-linejoin="miter"/>
<polygon points="203.92,911.77 211.42,924.97 196.42,924.97" fill="#a63434" stroke="#981c1e" stroke-width="0.8" stroke-linejoin="miter"/>
<polygon points="221.52,948.02 229.02,961.22 214.02,961.22" fill="#a63434" stroke="#981c1e" stroke-width="0.8" stroke-linejoin="miter"/>
<polygon points="244.84,984.28 252.34,997.48 237.34,997.48" fill="#a63434" stroke="#981c1e" stroke-width="0.8" stroke-linejoin="miter"/>
<polygon points="259.47,1020.54 266.97,1033.74 251.97,1033.74" fill="#a63434" stroke="#981c1e" stroke-width="0.8" stroke-linejoin="miter"/>
<polygon points="82.3,1056.8 89.8,1070 74.8,1070" fill="#a63434" stroke="#981c1e" stroke-width="0.8" stroke-linejoin="miter"/>
</g>
<text transform="translate(82.3,1099.6) scale(1,1.04)" font-size="28.8" text-anchor="middle">0</text>
<text transform="translate(192.3,1099.6) scale(1,1.04)" font-size="28.8" text-anchor="middle"><tspan class="o1">1</tspan></text>
<text transform="translate(302.3,1099.6) scale(1,1.04)" font-size="28.8" text-anchor="middle">2</text>
<text transform="translate(412.3,1099.6) scale(1,1.04)" font-size="28.8" text-anchor="middle">3</text>
<text transform="translate(69.9,639.2) scale(1,1.04)" font-size="28.8" text-anchor="end">0</text>
<text transform="translate(69.9,711.72) scale(1,1.04)" font-size="28.8" text-anchor="end">-2</text>
<text transform="translate(69.9,784.23) scale(1,1.04)" font-size="28.8" text-anchor="end">-4</text>
<text transform="translate(69.9,856.75) scale(1,1.04)" font-size="28.8" text-anchor="end">-6</text>
<text transform="translate(69.9,929.27) scale(1,1.04)" font-size="28.8" text-anchor="end">-8</text>
<text transform="translate(69.9,1001.78) scale(1,1.04)" font-size="28.8" text-anchor="end">-<tspan class="o1">1</tspan>0</text>
<text transform="translate(69.9,1074.3) scale(1,1.04)" font-size="28.8" text-anchor="end">-<tspan class="o1">1</tspan>2</text>
<text transform="translate(25.5,848.05) rotate(-90)" font-size="28.8" text-anchor="middle"><tspan font-style="italic">z/d</tspan><tspan font-size="19.5" dy="7"><tspan class="o1">1</tspan></tspan></text>
<text x="247.3" y="1135.9" font-size="28.8" text-anchor="middle"><tspan font-style="italic">u/U</tspan><tspan font-size="19.5" dy="7">0</tspan></text>
<text x="275.8" y="637.9" font-size="28.8" font-weight="bold">(e) <tspan font-style="italic">x/d</tspan><tspan font-size="20" dy="7.6"><tspan class="o1">1</tspan></tspan><tspan dy="-7.6">=<tspan class="o1">1</tspan>5</tspan></text>
<g stroke="#000" stroke-width="3.0" fill="none" stroke-linecap="butt">
<line x1="437.4" y1="1065.6" x2="770.4" y2="1065.6"/>
<line x1="438.9" y1="1065.6" x2="438.9" y2="1054.6"/>
<line x1="548.9" y1="1065.6" x2="548.9" y2="1054.6"/>
<line x1="658.9" y1="1065.6" x2="658.9" y2="1054.6"/>
<line x1="768.9" y1="1065.6" x2="768.9" y2="1054.6"/>
<line x1="493.9" y1="1065.6" x2="493.9" y2="1060"/>
<line x1="603.9" y1="1065.6" x2="603.9" y2="1060"/>
<line x1="713.9" y1="1065.6" x2="713.9" y2="1060"/>
</g>
<g clip-path="url(#cf)">
<polyline points="438.9,630.5 538.45,666.76 541.97,703.02 543.18,739.27 542.52,775.53 540.76,811.79 540.76,848.05 541.53,884.31 542.74,920.57 547.8,956.82 553.63,993.08 555.28,1029.34 438.9,1065.6" fill="none" stroke="#2a70b0" stroke-width="3.4" stroke-linejoin="round"/>
<polyline points="438.9,630.5 538.45,666.76 541.97,703.02 543.18,739.27 542.52,775.53 540.76,811.79 540.76,848.05 541.53,884.31 542.74,920.57 547.8,956.82 553.63,993.08 555.28,1029.34 438.9,1065.6" fill="none" stroke="#3683c2" stroke-width="2.1" stroke-linejoin="round"/>
<rect x="433.2" y="624.8" width="11.4" height="11.4" fill="#3a85c1" stroke="#2a72b3" stroke-width="0.8"/>
<rect x="532.75" y="661.06" width="11.4" height="11.4" fill="#3a85c1" stroke="#2a72b3" stroke-width="0.8"/>
<rect x="536.27" y="697.32" width="11.4" height="11.4" fill="#3a85c1" stroke="#2a72b3" stroke-width="0.8"/>
<rect x="537.48" y="733.57" width="11.4" height="11.4" fill="#3a85c1" stroke="#2a72b3" stroke-width="0.8"/>
<rect x="536.82" y="769.83" width="11.4" height="11.4" fill="#3a85c1" stroke="#2a72b3" stroke-width="0.8"/>
<rect x="535.06" y="806.09" width="11.4" height="11.4" fill="#3a85c1" stroke="#2a72b3" stroke-width="0.8"/>
<rect x="535.06" y="842.35" width="11.4" height="11.4" fill="#3a85c1" stroke="#2a72b3" stroke-width="0.8"/>
<rect x="535.83" y="878.61" width="11.4" height="11.4" fill="#3a85c1" stroke="#2a72b3" stroke-width="0.8"/>
<rect x="537.04" y="914.87" width="11.4" height="11.4" fill="#3a85c1" stroke="#2a72b3" stroke-width="0.8"/>
<rect x="542.1" y="951.12" width="11.4" height="11.4" fill="#3a85c1" stroke="#2a72b3" stroke-width="0.8"/>
<rect x="547.93" y="987.38" width="11.4" height="11.4" fill="#3a85c1" stroke="#2a72b3" stroke-width="0.8"/>
<rect x="549.58" y="1023.64" width="11.4" height="11.4" fill="#3a85c1" stroke="#2a72b3" stroke-width="0.8"/>
<rect x="433.2" y="1059.9" width="11.4" height="11.4" fill="#3a85c1" stroke="#2a72b3" stroke-width="0.8"/>
<polyline points="438.9,630.5 553.63,666.76 556.71,703.02 554.29,739.27 552.42,775.53 550.11,811.79 544.72,848.05 545.93,884.31 551.98,920.57 556.05,956.82 562.98,993.08 574.2,1029.34 438.9,1065.6" fill="none" stroke="#e0ac14" stroke-width="3.4" stroke-linejoin="round"/>
<polyline points="438.9,630.5 553.63,666.76 556.71,703.02 554.29,739.27 552.42,775.53 550.11,811.79 544.72,848.05 545.93,884.31 551.98,920.57 556.05,956.82 562.98,993.08 574.2,1029.34 438.9,1065.6" fill="none" stroke="#e9bb2c" stroke-width="2.1" stroke-linejoin="round"/>
<circle cx="438.9" cy="630.5" r="6.7" fill="#e7ba2f" stroke="#e0b020" stroke-width="0.8"/>
<circle cx="553.63" cy="666.76" r="6.7" fill="#e7ba2f" stroke="#e0b020" stroke-width="0.8"/>
<circle cx="556.71" cy="703.02" r="6.7" fill="#e7ba2f" stroke="#e0b020" stroke-width="0.8"/>
<circle cx="554.29" cy="739.27" r="6.7" fill="#e7ba2f" stroke="#e0b020" stroke-width="0.8"/>
<circle cx="552.42" cy="775.53" r="6.7" fill="#e7ba2f" stroke="#e0b020" stroke-width="0.8"/>
<circle cx="550.11" cy="811.79" r="6.7" fill="#e7ba2f" stroke="#e0b020" stroke-width="0.8"/>
<circle cx="544.72" cy="848.05" r="6.7" fill="#e7ba2f" stroke="#e0b020" stroke-width="0.8"/>
<circle cx="545.93" cy="884.31" r="6.7" fill="#e7ba2f" stroke="#e0b020" stroke-width="0.8"/>
<circle cx="551.98" cy="920.57" r="6.7" fill="#e7ba2f" stroke="#e0b020" stroke-width="0.8"/>
<circle cx="556.05" cy="956.82" r="6.7" fill="#e7ba2f" stroke="#e0b020" stroke-width="0.8"/>
<circle cx="562.98" cy="993.08" r="6.7" fill="#e7ba2f" stroke="#e0b020" stroke-width="0.8"/>
<circle cx="574.2" cy="1029.34" r="6.7" fill="#e7ba2f" stroke="#e0b020" stroke-width="0.8"/>
<circle cx="438.9" cy="1065.6" r="6.7" fill="#e7ba2f" stroke="#e0b020" stroke-width="0.8"/>
<polyline points="438.9,630.5 562.98,666.76 564.85,703.02 564.85,739.27 560.67,775.53 557.15,811.79 551.32,848.05 553.19,884.31 558.8,920.57 562.98,956.82 575.08,993.08 596.75,1029.34 438.9,1065.6" fill="none" stroke="#921d1f" stroke-width="3.4" stroke-linejoin="round"/>
<polyline points="438.9,630.5 562.98,666.76 564.85,703.02 564.85,739.27 560.67,775.53 557.15,811.79 551.32,848.05 553.19,884.31 558.8,920.57 562.98,956.82 575.08,993.08 596.75,1029.34 438.9,1065.6" fill="none" stroke="#a63434" stroke-width="2.1" stroke-linejoin="round"/>
<polygon points="438.9,621.7 446.4,634.9 431.4,634.9" fill="#a63434" stroke="#981c1e" stroke-width="0.8" stroke-linejoin="miter"/>
<polygon points="562.98,657.96 570.48,671.16 555.48,671.16" fill="#a63434" stroke="#981c1e" stroke-width="0.8" stroke-linejoin="miter"/>
<polygon points="564.85,694.22 572.35,707.42 557.35,707.42" fill="#a63434" stroke="#981c1e" stroke-width="0.8" stroke-linejoin="miter"/>
<polygon points="564.85,730.48 572.35,743.67 557.35,743.67" fill="#a63434" stroke="#981c1e" stroke-width="0.8" stroke-linejoin="miter"/>
<polygon points="560.67,766.73 568.17,779.93 553.17,779.93" fill="#a63434" stroke="#981c1e" stroke-width="0.8" stroke-linejoin="miter"/>
<polygon points="557.15,802.99 564.65,816.19 549.65,816.19" fill="#a63434" stroke="#981c1e" stroke-width="0.8" stroke-linejoin="miter"/>
<polygon points="551.32,839.25 558.82,852.45 543.82,852.45" fill="#a63434" stroke="#981c1e" stroke-width="0.8" stroke-linejoin="miter"/>
<polygon points="553.19,875.51 560.69,888.71 545.69,888.71" fill="#a63434" stroke="#981c1e" stroke-width="0.8" stroke-linejoin="miter"/>
<polygon points="558.8,911.77 566.3,924.97 551.3,924.97" fill="#a63434" stroke="#981c1e" stroke-width="0.8" stroke-linejoin="miter"/>
<polygon points="562.98,948.02 570.48,961.22 555.48,961.22" fill="#a63434" stroke="#981c1e" stroke-width="0.8" stroke-linejoin="miter"/>
<polygon points="575.08,984.28 582.58,997.48 567.58,997.48" fill="#a63434" stroke="#981c1e" stroke-width="0.8" stroke-linejoin="miter"/>
<polygon points="596.75,1020.54 604.25,1033.74 589.25,1033.74" fill="#a63434" stroke="#981c1e" stroke-width="0.8" stroke-linejoin="miter"/>
<polygon points="438.9,1056.8 446.4,1070 431.4,1070" fill="#a63434" stroke="#981c1e" stroke-width="0.8" stroke-linejoin="miter"/>
</g>
<text transform="translate(438.9,1099.6) scale(1,1.04)" font-size="28.8" text-anchor="middle">0</text>
<text transform="translate(548.9,1099.6) scale(1,1.04)" font-size="28.8" text-anchor="middle"><tspan class="o1">1</tspan></text>
<text transform="translate(658.9,1099.6) scale(1,1.04)" font-size="28.8" text-anchor="middle">2</text>
<text transform="translate(768.9,1099.6) scale(1,1.04)" font-size="28.8" text-anchor="middle">3</text>
<text x="603.9" y="1135.9" font-size="28.8" text-anchor="middle"><tspan font-style="italic">u/U</tspan><tspan font-size="19.5" dy="7">0</tspan></text>
<text x="632.4" y="637.9" font-size="28.8" font-weight="bold">(f) <tspan font-style="italic">x/d</tspan><tspan font-size="20" dy="7.6"><tspan class="o1">1</tspan></tspan><tspan dy="-7.6">=20</tspan></text>
<g stroke="#000" stroke-width="3.0" fill="none" stroke-linecap="butt">
<line x1="796" y1="1065.6" x2="1129" y2="1065.6"/>
<line x1="797.5" y1="1065.6" x2="797.5" y2="1054.6"/>
<line x1="907.5" y1="1065.6" x2="907.5" y2="1054.6"/>
<line x1="1017.5" y1="1065.6" x2="1017.5" y2="1054.6"/>
<line x1="1127.5" y1="1065.6" x2="1127.5" y2="1054.6"/>
<line x1="852.5" y1="1065.6" x2="852.5" y2="1060"/>
<line x1="962.5" y1="1065.6" x2="962.5" y2="1060"/>
<line x1="1072.5" y1="1065.6" x2="1072.5" y2="1060"/>
</g>
<g clip-path="url(#cg)">
<polyline points="797.5,630.5 897.52,666.76 901.04,703.02 902.58,739.27 900.27,775.53 900.27,811.79 898.4,848.05 896.75,884.31 899.39,920.57 903.79,956.82 906.1,993.08 909.62,1029.34 797.5,1065.6" fill="none" stroke="#2a70b0" stroke-width="3.4" stroke-linejoin="round"/>
<polyline points="797.5,630.5 897.52,666.76 901.04,703.02 902.58,739.27 900.27,775.53 900.27,811.79 898.4,848.05 896.75,884.31 899.39,920.57 903.79,956.82 906.1,993.08 909.62,1029.34 797.5,1065.6" fill="none" stroke="#3683c2" stroke-width="2.1" stroke-linejoin="round"/>
<rect x="791.8" y="624.8" width="11.4" height="11.4" fill="#3a85c1" stroke="#2a72b3" stroke-width="0.8"/>
<rect x="891.82" y="661.06" width="11.4" height="11.4" fill="#3a85c1" stroke="#2a72b3" stroke-width="0.8"/>
<rect x="895.34" y="697.32" width="11.4" height="11.4" fill="#3a85c1" stroke="#2a72b3" stroke-width="0.8"/>
<rect x="896.88" y="733.57" width="11.4" height="11.4" fill="#3a85c1" stroke="#2a72b3" stroke-width="0.8"/>
<rect x="894.57" y="769.83" width="11.4" height="11.4" fill="#3a85c1" stroke="#2a72b3" stroke-width="0.8"/>
<rect x="894.57" y="806.09" width="11.4" height="11.4" fill="#3a85c1" stroke="#2a72b3" stroke-width="0.8"/>
<rect x="892.7" y="842.35" width="11.4" height="11.4" fill="#3a85c1" stroke="#2a72b3" stroke-width="0.8"/>
<rect x="891.05" y="878.61" width="11.4" height="11.4" fill="#3a85c1" stroke="#2a72b3" stroke-width="0.8"/>
<rect x="893.69" y="914.87" width="11.4" height="11.4" fill="#3a85c1" stroke="#2a72b3" stroke-width="0.8"/>
<rect x="898.09" y="951.12" width="11.4" height="11.4" fill="#3a85c1" stroke="#2a72b3" stroke-width="0.8"/>
<rect x="900.4" y="987.38" width="11.4" height="11.4" fill="#3a85c1" stroke="#2a72b3" stroke-width="0.8"/>
<rect x="903.92" y="1023.64" width="11.4" height="11.4" fill="#3a85c1" stroke="#2a72b3" stroke-width="0.8"/>
<rect x="791.8" y="1059.9" width="11.4" height="11.4" fill="#3a85c1" stroke="#2a72b3" stroke-width="0.8"/>
<polyline points="797.5,630.5 911.93,666.76 913.8,703.02 913.14,739.27 911.16,775.53 909.4,811.79 907.86,848.05 907.2,884.31 906.21,920.57 907.97,956.82 916.11,993.08 924.25,1029.34 797.5,1065.6" fill="none" stroke="#e0ac14" stroke-width="3.4" stroke-linejoin="round"/>
<polyline points="797.5,630.5 911.93,666.76 913.8,703.02 913.14,739.27 911.16,775.53 909.4,811.79 907.86,848.05 907.2,884.31 906.21,920.57 907.97,956.82 916.11,993.08 924.25,1029.34 797.5,1065.6" fill="none" stroke="#e9bb2c" stroke-width="2.1" stroke-linejoin="round"/>
<circle cx="797.5" cy="630.5" r="6.7" fill="#e7ba2f" stroke="#e0b020" stroke-width="0.8"/>
<circle cx="911.93" cy="666.76" r="6.7" fill="#e7ba2f" stroke="#e0b020" stroke-width="0.8"/>
<circle cx="913.8" cy="703.02" r="6.7" fill="#e7ba2f" stroke="#e0b020" stroke-width="0.8"/>
<circle cx="913.14" cy="739.27" r="6.7" fill="#e7ba2f" stroke="#e0b020" stroke-width="0.8"/>
<circle cx="911.16" cy="775.53" r="6.7" fill="#e7ba2f" stroke="#e0b020" stroke-width="0.8"/>
<circle cx="909.4" cy="811.79" r="6.7" fill="#e7ba2f" stroke="#e0b020" stroke-width="0.8"/>
<circle cx="907.86" cy="848.05" r="6.7" fill="#e7ba2f" stroke="#e0b020" stroke-width="0.8"/>
<circle cx="907.2" cy="884.31" r="6.7" fill="#e7ba2f" stroke="#e0b020" stroke-width="0.8"/>
<circle cx="906.21" cy="920.57" r="6.7" fill="#e7ba2f" stroke="#e0b020" stroke-width="0.8"/>
<circle cx="907.97" cy="956.82" r="6.7" fill="#e7ba2f" stroke="#e0b020" stroke-width="0.8"/>
<circle cx="916.11" cy="993.08" r="6.7" fill="#e7ba2f" stroke="#e0b020" stroke-width="0.8"/>
<circle cx="924.25" cy="1029.34" r="6.7" fill="#e7ba2f" stroke="#e0b020" stroke-width="0.8"/>
<circle cx="797.5" cy="1065.6" r="6.7" fill="#e7ba2f" stroke="#e0b020" stroke-width="0.8"/>
<polyline points="797.5,630.5 919.85,666.76 920.29,703.02 920.73,739.27 919.52,775.53 918.2,811.79 916.11,848.05 913.14,884.31 913.8,920.57 916.11,956.82 927.11,993.08 939.54,1029.34 797.5,1065.6" fill="none" stroke="#921d1f" stroke-width="3.4" stroke-linejoin="round"/>
<polyline points="797.5,630.5 919.85,666.76 920.29,703.02 920.73,739.27 919.52,775.53 918.2,811.79 916.11,848.05 913.14,884.31 913.8,920.57 916.11,956.82 927.11,993.08 939.54,1029.34 797.5,1065.6" fill="none" stroke="#a63434" stroke-width="2.1" stroke-linejoin="round"/>
<polygon points="797.5,621.7 805,634.9 790,634.9" fill="#a63434" stroke="#981c1e" stroke-width="0.8" stroke-linejoin="miter"/>
<polygon points="919.85,657.96 927.35,671.16 912.35,671.16" fill="#a63434" stroke="#981c1e" stroke-width="0.8" stroke-linejoin="miter"/>
<polygon points="920.29,694.22 927.79,707.42 912.79,707.42" fill="#a63434" stroke="#981c1e" stroke-width="0.8" stroke-linejoin="miter"/>
<polygon points="920.73,730.48 928.23,743.67 913.23,743.67" fill="#a63434" stroke="#981c1e" stroke-width="0.8" stroke-linejoin="miter"/>
<polygon points="919.52,766.73 927.02,779.93 912.02,779.93" fill="#a63434" stroke="#981c1e" stroke-width="0.8" stroke-linejoin="miter"/>
<polygon points="918.2,802.99 925.7,816.19 910.7,816.19" fill="#a63434" stroke="#981c1e" stroke-width="0.8" stroke-linejoin="miter"/>
<polygon points="916.11,839.25 923.61,852.45 908.61,852.45" fill="#a63434" stroke="#981c1e" stroke-width="0.8" stroke-linejoin="miter"/>
<polygon points="913.14,875.51 920.64,888.71 905.64,888.71" fill="#a63434" stroke="#981c1e" stroke-width="0.8" stroke-linejoin="miter"/>
<polygon points="913.8,911.77 921.3,924.97 906.3,924.97" fill="#a63434" stroke="#981c1e" stroke-width="0.8" stroke-linejoin="miter"/>
<polygon points="916.11,948.02 923.61,961.22 908.61,961.22" fill="#a63434" stroke="#981c1e" stroke-width="0.8" stroke-linejoin="miter"/>
<polygon points="927.11,984.28 934.61,997.48 919.61,997.48" fill="#a63434" stroke="#981c1e" stroke-width="0.8" stroke-linejoin="miter"/>
<polygon points="939.54,1020.54 947.04,1033.74 932.04,1033.74" fill="#a63434" stroke="#981c1e" stroke-width="0.8" stroke-linejoin="miter"/>
<polygon points="797.5,1056.8 805,1070 790,1070" fill="#a63434" stroke="#981c1e" stroke-width="0.8" stroke-linejoin="miter"/>
</g>
<text transform="translate(797.5,1099.6) scale(1,1.04)" font-size="28.8" text-anchor="middle">0</text>
<text transform="translate(907.5,1099.6) scale(1,1.04)" font-size="28.8" text-anchor="middle"><tspan class="o1">1</tspan></text>
<text transform="translate(1017.5,1099.6) scale(1,1.04)" font-size="28.8" text-anchor="middle">2</text>
<text transform="translate(1127.5,1099.6) scale(1,1.04)" font-size="28.8" text-anchor="middle">3</text>
<text x="962.5" y="1135.9" font-size="28.8" text-anchor="middle"><tspan font-style="italic">u/U</tspan><tspan font-size="19.5" dy="7">0</tspan></text>
<text x="991" y="637.9" font-size="28.8" font-weight="bold">(g) <tspan font-style="italic">x/d</tspan><tspan font-size="20" dy="7.6"><tspan class="o1">1</tspan></tspan><tspan dy="-7.6">=25</tspan></text>
<g stroke="#000" stroke-width="3.0" fill="none" stroke-linecap="butt">
<line x1="1153.7" y1="1065.6" x2="1486.7" y2="1065.6"/>
<line x1="1155.2" y1="1065.6" x2="1155.2" y2="1054.6"/>
<line x1="1265.2" y1="1065.6" x2="1265.2" y2="1054.6"/>
<line x1="1375.2" y1="1065.6" x2="1375.2" y2="1054.6"/>
<line x1="1485.2" y1="1065.6" x2="1485.2" y2="1054.6"/>
<line x1="1210.2" y1="1065.6" x2="1210.2" y2="1060"/>
<line x1="1320.2" y1="1065.6" x2="1320.2" y2="1060"/>
<line x1="1430.2" y1="1065.6" x2="1430.2" y2="1060"/>
</g>
<g clip-path="url(#ch)">
<polyline points="1155.2,630.5 1256.19,666.76 1258.5,703.02 1260.81,739.27 1259.05,775.53 1257.95,811.79 1256.19,848.05 1255.75,884.31 1256.85,920.57 1262.02,956.82 1263.23,993.08 1264.99,1029.34 1155.2,1065.6" fill="none" stroke="#2a70b0" stroke-width="3.4" stroke-linejoin="round"/>
<polyline points="1155.2,630.5 1256.19,666.76 1258.5,703.02 1260.81,739.27 1259.05,775.53 1257.95,811.79 1256.19,848.05 1255.75,884.31 1256.85,920.57 1262.02,956.82 1263.23,993.08 1264.99,1029.34 1155.2,1065.6" fill="none" stroke="#3683c2" stroke-width="2.1" stroke-linejoin="round"/>
<rect x="1149.5" y="624.8" width="11.4" height="11.4" fill="#3a85c1" stroke="#2a72b3" stroke-width="0.8"/>
<rect x="1250.49" y="661.06" width="11.4" height="11.4" fill="#3a85c1" stroke="#2a72b3" stroke-width="0.8"/>
<rect x="1252.8" y="697.32" width="11.4" height="11.4" fill="#3a85c1" stroke="#2a72b3" stroke-width="0.8"/>
<rect x="1255.11" y="733.57" width="11.4" height="11.4" fill="#3a85c1" stroke="#2a72b3" stroke-width="0.8"/>
<rect x="1253.35" y="769.83" width="11.4" height="11.4" fill="#3a85c1" stroke="#2a72b3" stroke-width="0.8"/>
<rect x="1252.25" y="806.09" width="11.4" height="11.4" fill="#3a85c1" stroke="#2a72b3" stroke-width="0.8"/>
<rect x="1250.49" y="842.35" width="11.4" height="11.4" fill="#3a85c1" stroke="#2a72b3" stroke-width="0.8"/>
<rect x="1250.05" y="878.61" width="11.4" height="11.4" fill="#3a85c1" stroke="#2a72b3" stroke-width="0.8"/>
<rect x="1251.15" y="914.87" width="11.4" height="11.4" fill="#3a85c1" stroke="#2a72b3" stroke-width="0.8"/>
<rect x="1256.32" y="951.12" width="11.4" height="11.4" fill="#3a85c1" stroke="#2a72b3" stroke-width="0.8"/>
<rect x="1257.53" y="987.38" width="11.4" height="11.4" fill="#3a85c1" stroke="#2a72b3" stroke-width="0.8"/>
<rect x="1259.29" y="1023.64" width="11.4" height="11.4" fill="#3a85c1" stroke="#2a72b3" stroke-width="0.8"/>
<rect x="1149.5" y="1059.9" width="11.4" height="11.4" fill="#3a85c1" stroke="#2a72b3" stroke-width="0.8"/>
<polyline points="1155.2,630.5 1270.93,666.76 1272.03,703.02 1269.72,739.27 1269.72,775.53 1266.75,811.79 1266.2,848.05 1265.54,884.31 1265.1,920.57 1267.3,956.82 1272.25,993.08 1277.86,1029.34 1155.2,1065.6" fill="none" stroke="#e0ac14" stroke-width="3.4" stroke-linejoin="round"/>
<polyline points="1155.2,630.5 1270.93,666.76 1272.03,703.02 1269.72,739.27 1269.72,775.53 1266.75,811.79 1266.2,848.05 1265.54,884.31 1265.1,920.57 1267.3,956.82 1272.25,993.08 1277.86,1029.34 1155.2,1065.6" fill="none" stroke="#e9bb2c" stroke-width="2.1" stroke-linejoin="round"/>
<circle cx="1155.2" cy="630.5" r="6.7" fill="#e7ba2f" stroke="#e0b020" stroke-width="0.8"/>
<circle cx="1270.93" cy="666.76" r="6.7" fill="#e7ba2f" stroke="#e0b020" stroke-width="0.8"/>
<circle cx="1272.03" cy="703.02" r="6.7" fill="#e7ba2f" stroke="#e0b020" stroke-width="0.8"/>
<circle cx="1269.72" cy="739.27" r="6.7" fill="#e7ba2f" stroke="#e0b020" stroke-width="0.8"/>
<circle cx="1269.72" cy="775.53" r="6.7" fill="#e7ba2f" stroke="#e0b020" stroke-width="0.8"/>
<circle cx="1266.75" cy="811.79" r="6.7" fill="#e7ba2f" stroke="#e0b020" stroke-width="0.8"/>
<circle cx="1266.2" cy="848.05" r="6.7" fill="#e7ba2f" stroke="#e0b020" stroke-width="0.8"/>
<circle cx="1265.54" cy="884.31" r="6.7" fill="#e7ba2f" stroke="#e0b020" stroke-width="0.8"/>
<circle cx="1265.1" cy="920.57" r="6.7" fill="#e7ba2f" stroke="#e0b020" stroke-width="0.8"/>
<circle cx="1267.3" cy="956.82" r="6.7" fill="#e7ba2f" stroke="#e0b020" stroke-width="0.8"/>
<circle cx="1272.25" cy="993.08" r="6.7" fill="#e7ba2f" stroke="#e0b020" stroke-width="0.8"/>
<circle cx="1277.86" cy="1029.34" r="6.7" fill="#e7ba2f" stroke="#e0b020" stroke-width="0.8"/>
<circle cx="1155.2" cy="1065.6" r="6.7" fill="#e7ba2f" stroke="#e0b020" stroke-width="0.8"/>
<polyline points="1155.2,630.5 1279.51,666.76 1280.72,703.02 1280.94,739.27 1278.96,775.53 1276.65,811.79 1273.9,848.05 1270.82,884.31 1273.24,920.57 1274.45,956.82 1280.94,993.08 1288.31,1029.34 1155.2,1065.6" fill="none" stroke="#921d1f" stroke-width="3.4" stroke-linejoin="round"/>
<polyline points="1155.2,630.5 1279.51,666.76 1280.72,703.02 1280.94,739.27 1278.96,775.53 1276.65,811.79 1273.9,848.05 1270.82,884.31 1273.24,920.57 1274.45,956.82 1280.94,993.08 1288.31,1029.34 1155.2,1065.6" fill="none" stroke="#a63434" stroke-width="2.1" stroke-linejoin="round"/>
<polygon points="1155.2,621.7 1162.7,634.9 1147.7,634.9" fill="#a63434" stroke="#981c1e" stroke-width="0.8" stroke-linejoin="miter"/>
<polygon points="1279.51,657.96 1287.01,671.16 1272.01,671.16" fill="#a63434" stroke="#981c1e" stroke-width="0.8" stroke-linejoin="miter"/>
<polygon points="1280.72,694.22 1288.22,707.42 1273.22,707.42" fill="#a63434" stroke="#981c1e" stroke-width="0.8" stroke-linejoin="miter"/>
<polygon points="1280.94,730.48 1288.44,743.67 1273.44,743.67" fill="#a63434" stroke="#981c1e" stroke-width="0.8" stroke-linejoin="miter"/>
<polygon points="1278.96,766.73 1286.46,779.93 1271.46,779.93" fill="#a63434" stroke="#981c1e" stroke-width="0.8" stroke-linejoin="miter"/>
<polygon points="1276.65,802.99 1284.15,816.19 1269.15,816.19" fill="#a63434" stroke="#981c1e" stroke-width="0.8" stroke-linejoin="miter"/>
<polygon points="1273.9,839.25 1281.4,852.45 1266.4,852.45" fill="#a63434" stroke="#981c1e" stroke-width="0.8" stroke-linejoin="miter"/>
<polygon points="1270.82,875.51 1278.32,888.71 1263.32,888.71" fill="#a63434" stroke="#981c1e" stroke-width="0.8" stroke-linejoin="miter"/>
<polygon points="1273.24,911.77 1280.74,924.97 1265.74,924.97" fill="#a63434" stroke="#981c1e" stroke-width="0.8" stroke-linejoin="miter"/>
<polygon points="1274.45,948.02 1281.95,961.22 1266.95,961.22" fill="#a63434" stroke="#981c1e" stroke-width="0.8" stroke-linejoin="miter"/>
<polygon points="1280.94,984.28 1288.44,997.48 1273.44,997.48" fill="#a63434" stroke="#981c1e" stroke-width="0.8" stroke-linejoin="miter"/>
<polygon points="1288.31,1020.54 1295.81,1033.74 1280.81,1033.74" fill="#a63434" stroke="#981c1e" stroke-width="0.8" stroke-linejoin="miter"/>
<polygon points="1155.2,1056.8 1162.7,1070 1147.7,1070" fill="#a63434" stroke="#981c1e" stroke-width="0.8" stroke-linejoin="miter"/>
</g>
<text transform="translate(1155.2,1099.6) scale(1,1.04)" font-size="28.8" text-anchor="middle">0</text>
<text transform="translate(1265.2,1099.6) scale(1,1.04)" font-size="28.8" text-anchor="middle"><tspan class="o1">1</tspan></text>
<text transform="translate(1375.2,1099.6) scale(1,1.04)" font-size="28.8" text-anchor="middle">2</text>
<text transform="translate(1485.2,1099.6) scale(1,1.04)" font-size="28.8" text-anchor="middle">3</text>
<text x="1320.2" y="1135.9" font-size="28.8" text-anchor="middle"><tspan font-style="italic">u/U</tspan><tspan font-size="19.5" dy="7">0</tspan></text>
<text x="1348.7" y="637.9" font-size="28.8" font-weight="bold">(h) <tspan font-style="italic">x/d</tspan><tspan font-size="20" dy="7.6"><tspan class="o1">1</tspan></tspan><tspan dy="-7.6">=30</tspan></text>
<text x="392" y="30" font-size="28.8"><tspan font-style="italic">R</tspan>=4</text>
<line x1="510.9" y1="20.3" x2="587.9" y2="20.3" stroke="#2a70b0" stroke-width="6.5" stroke-linecap="round"/><line x1="510.9" y1="20.3" x2="587.9" y2="20.3" stroke="#3683c2" stroke-width="4.9" stroke-linecap="round"/>
<rect x="537.6" y="8.2" width="23" height="23" fill="#3a85c1" stroke="#2a72b3" stroke-width="1"/>
<text x="605" y="30" font-size="28.8"><tspan font-style="italic">d/D</tspan>=<tspan class="o1">1</tspan>/<tspan class="o1">1</tspan>2</text>
<line x1="754.6" y1="20.3" x2="831.9" y2="20.3" stroke="#e0ac14" stroke-width="6.5" stroke-linecap="round"/><line x1="754.6" y1="20.3" x2="831.9" y2="20.3" stroke="#e9bb2c" stroke-width="4.9" stroke-linecap="round"/>
<circle cx="793.4" cy="20.2" r="12.6" fill="#e7ba2f" stroke="#e0b020" stroke-width="1"/>
<text x="849" y="30" font-size="28.8"><tspan font-style="italic">d/D</tspan>=<tspan class="o1">1</tspan>/6</text>
<line x1="982.4" y1="20.3" x2="1060.1" y2="20.3" stroke="#921d1f" stroke-width="6.5" stroke-linecap="round"/><line x1="982.4" y1="20.3" x2="1060.1" y2="20.3" stroke="#a63434" stroke-width="4.9" stroke-linecap="round"/>
<polygon points="1021.2,3 1036.3,28.9 1006.1,28.9" fill="#a63434" stroke="#981c1e" stroke-width="1"/>
<text x="1076.3" y="30" font-size="28.8"><tspan font-style="italic">d/D</tspan>=<tspan class="o1">1</tspan>/4</text>
<g fill="#000"><path transform="translate(193.9,550.5) scale(1,1.04) translate(-8.01,0.00) scale(0.01406,-0.01352)" d="M763,0L583,0L583,1147C540,1106 483,1064 413,1023C343,982 280,951 218,930L218,1104C317,1151 404,1207 478,1274C552,1341 607,1405 638,1466L763,1466Z"/><path transform="translate(71.5,452.6) scale(1,1.04) translate(-32.03,0.00) scale(0.01406,-0.01352)" d="M763,0L583,0L583,1147C540,1106 483,1064 413,1023C343,982 280,951 218,930L218,1104C317,1151 404,1207 478,1274C552,1341 607,1405 638,1466L763,1466Z"/><path transform="translate(71.5,525.2) scale(1,1.04) translate(-32.03,0.00) scale(0.01406,-0.01352)" d="M763,0L583,0L583,1147C540,1106 483,1064 413,1023C343,982 280,951 218,930L218,1104C317,1151 404,1207 478,1274C552,1341 607,1405 638,1466L763,1466Z"/><path transform="translate(25.5,298.7) rotate(-90) translate(13.78,7.00) scale(0.00952,-0.00952)" d="M763,0L583,0L583,1147C540,1106 483,1064 413,1023C343,982 280,951 218,930L218,1104C317,1151 404,1207 478,1274C552,1341 607,1405 638,1466L763,1466Z"/><path transform="translate(362.21,95.90) scale(0.00977,-0.00977)" d="M810,0L526,0L526,1040C430,950 300,880 142,835L142,1070C230,1100 320,1150 410,1220C500,1290 565,1370 600,1466L810,1466Z"/><path transform="translate(390.17,88.30) scale(0.01406,-0.01406)" d="M810,0L526,0L526,1040C430,950 300,880 142,835L142,1070C230,1100 320,1150 410,1220C500,1290 565,1370 600,1466L810,1466Z"/><path transform="translate(552.5,550.5) scale(1,1.04) translate(-8.01,0.00) scale(0.01406,-0.01352)" d="M763,0L583,0L583,1147C540,1106 483,1064 413,1023C343,982 280,951 218,930L218,1104C317,1151 404,1207 478,1274C552,1341 607,1405 638,1466L763,1466Z"/><path transform="translate(722.39,95.90) scale(0.00977,-0.00977)" d="M810,0L526,0L526,1040C430,950 300,880 142,835L142,1070C230,1100 320,1150 410,1220C500,1290 565,1370 600,1466L810,1466Z"/><path transform="translate(910.6,550.5) scale(1,1.04) translate(-8.01,0.00) scale(0.01406,-0.01352)" d="M763,0L583,0L583,1147C540,1106 483,1064 413,1023C343,982 280,951 218,930L218,1104C317,1151 404,1207 478,1274C552,1341 607,1405 638,1466L763,1466Z"/><path transform="translate(1078.91,95.90) scale(0.00977,-0.00977)" d="M810,0L526,0L526,1040C430,950 300,880 142,835L142,1070C230,1100 320,1150 410,1220C500,1290 565,1370 600,1466L810,1466Z"/><path transform="translate(1268.6,550.5) scale(1,1.04) translate(-8.01,0.00) scale(0.01406,-0.01352)" d="M763,0L583,0L583,1147C540,1106 483,1064 413,1023C343,982 280,951 218,930L218,1104C317,1151 404,1207 478,1274C552,1341 607,1405 638,1466L763,1466Z"/><path transform="translate(1438.49,95.90) scale(0.00977,-0.00977)" d="M810,0L526,0L526,1040C430,950 300,880 142,835L142,1070C230,1100 320,1150 410,1220C500,1290 565,1370 600,1466L810,1466Z"/><path transform="translate(1466.44,88.30) scale(0.01406,-0.01406)" d="M810,0L526,0L526,1040C430,950 300,880 142,835L142,1070C230,1100 320,1150 410,1220C500,1290 565,1370 600,1466L810,1466Z"/><path transform="translate(192.3,1099.6) scale(1,1.04) translate(-8.01,0.00) scale(0.01406,-0.01352)" d="M763,0L583,0L583,1147C540,1106 483,1064 413,1023C343,982 280,951 218,930L218,1104C317,1151 404,1207 478,1274C552,1341 607,1405 638,1466L763,1466Z"/><path transform="translate(69.9,1001.78) scale(1,1.04) translate(-32.03,0.00) scale(0.01406,-0.01352)" d="M763,0L583,0L583,1147C540,1106 483,1064 413,1023C343,982 280,951 218,930L218,1104C317,1151 404,1207 478,1274C552,1341 607,1405 638,1466L763,1466Z"/><path transform="translate(69.9,1074.3) scale(1,1.04) translate(-32.03,0.00) scale(0.01406,-0.01352)" d="M763,0L583,0L583,1147C540,1106 483,1064 413,1023C343,982 280,951 218,930L218,1104C317,1151 404,1207 478,1274C552,1341 607,1405 638,1466L763,1466Z"/><path transform="translate(25.5,848.05) rotate(-90) translate(13.78,7.00) scale(0.00952,-0.00952)" d="M763,0L583,0L583,1147C540,1106 483,1064 413,1023C343,982 280,951 218,930L218,1104C317,1151 404,1207 478,1274C552,1341 607,1405 638,1466L763,1466Z"/><path transform="translate(360.61,645.50) scale(0.00977,-0.00977)" d="M810,0L526,0L526,1040C430,950 300,880 142,835L142,1070C230,1100 320,1150 410,1220C500,1290 565,1370 600,1466L810,1466Z"/><path transform="translate(388.57,637.90) scale(0.01406,-0.01406)" d="M810,0L526,0L526,1040C430,950 300,880 142,835L142,1070C230,1100 320,1150 410,1220C500,1290 565,1370 600,1466L810,1466Z"/><path transform="translate(548.9,1099.6) scale(1,1.04) translate(-8.01,0.00) scale(0.01406,-0.01352)" d="M763,0L583,0L583,1147C540,1106 483,1064 413,1023C343,982 280,951 218,930L218,1104C317,1151 404,1207 478,1274C552,1341 607,1405 638,1466L763,1466Z"/><path transform="translate(710.79,645.50) scale(0.00977,-0.00977)" d="M810,0L526,0L526,1040C430,950 300,880 142,835L142,1070C230,1100 320,1150 410,1220C500,1290 565,1370 600,1466L810,1466Z"/><path transform="translate(907.5,1099.6) scale(1,1.04) translate(-8.01,0.00) scale(0.01406,-0.01352)" d="M763,0L583,0L583,1147C540,1106 483,1064 413,1023C343,982 280,951 218,930L218,1104C317,1151 404,1207 478,1274C552,1341 607,1405 638,1466L763,1466Z"/><path transform="translate(1077.39,645.50) scale(0.00977,-0.00977)" d="M810,0L526,0L526,1040C430,950 300,880 142,835L142,1070C230,1100 320,1150 410,1220C500,1290 565,1370 600,1466L810,1466Z"/><path transform="translate(1265.2,1099.6) scale(1,1.04) translate(-8.01,0.00) scale(0.01406,-0.01352)" d="M763,0L583,0L583,1147C540,1106 483,1064 413,1023C343,982 280,951 218,930L218,1104C317,1151 404,1207 478,1274C552,1341 607,1405 638,1466L763,1466Z"/><path transform="translate(1435.09,645.50) scale(0.00977,-0.00977)" d="M810,0L526,0L526,1040C430,950 300,880 142,835L142,1070C230,1100 320,1150 410,1220C500,1290 565,1370 600,1466L810,1466Z"/><path transform="translate(666.64,30.00) scale(0.01406,-0.01406)" d="M763,0L583,0L583,1147C540,1106 483,1064 413,1023C343,982 280,951 218,930L218,1104C317,1151 404,1207 478,1274C552,1341 607,1405 638,1466L763,1466Z"/><path transform="translate(690.67,30.00) scale(0.01406,-0.01406)" d="M763,0L583,0L583,1147C540,1106 483,1064 413,1023C343,982 280,951 218,930L218,1104C317,1151 404,1207 478,1274C552,1341 607,1405 638,1466L763,1466Z"/><path transform="translate(910.64,30.00) scale(0.01406,-0.01406)" d="M763,0L583,0L583,1147C540,1106 483,1064 413,1023C343,982 280,951 218,930L218,1104C317,1151 404,1207 478,1274C552,1341 607,1405 638,1466L763,1466Z"/><path transform="translate(1137.94,30.00) scale(0.01406,-0.01406)" d="M763,0L583,0L583,1147C540,1106 483,1064 413,1023C343,982 280,951 218,930L218,1104C317,1151 404,1207 478,1274C552,1341 607,1405 638,1466L763,1466Z"/></g></svg></body></html>
